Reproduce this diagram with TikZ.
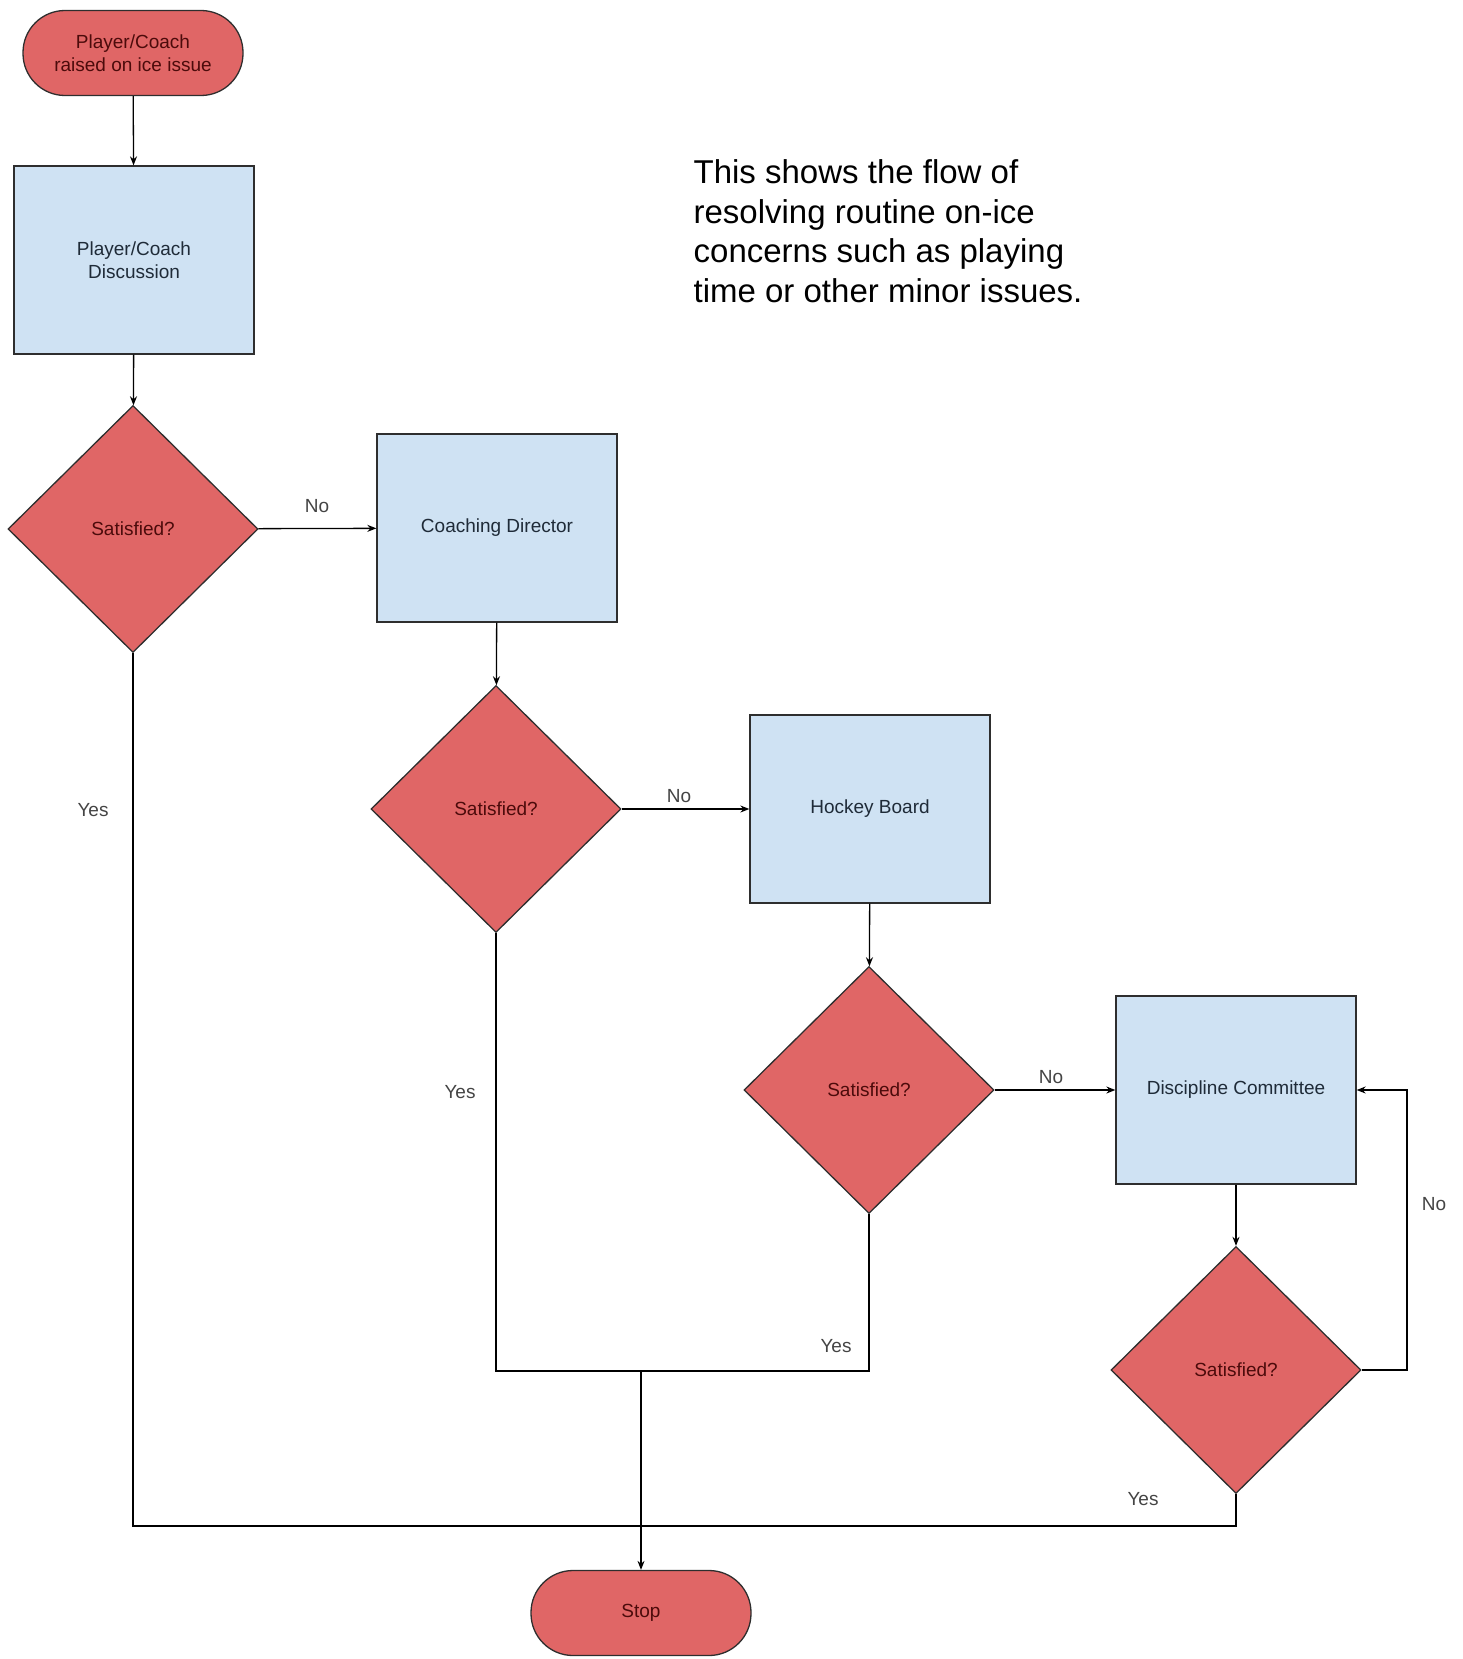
\documentclass[tikz,border=0pt]{standalone}
\usepackage{fontspec}
\setmainfont{Liberation Sans}
\usetikzlibrary{shapes.geometric, arrows.meta, positioning}
\tikzset{>={Stealth[length=9pt,width=7pt]}}
\definecolor{flowred}{HTML}{E06666}
\definecolor{flowblue}{HTML}{CFE2F3}
\definecolor{redtext}{HTML}{4C0B0B}
\definecolor{bluetext}{HTML}{1F2B38}
\definecolor{edgegray}{HTML}{2E2E2E}
\definecolor{lblgray}{HTML}{444444}

\begin{document}
\begin{tikzpicture}[x=1pt,y=-1pt,
	font=\fontsize{19}{23}\selectfont,
	line width=1.3pt,
	term/.style={draw=edgegray, fill=flowred, text=redtext, rounded corners=42pt, minimum width=220pt, minimum height=85pt, align=center},
	procbox/.style={draw=edgegray, fill=flowblue, text=bluetext, minimum width=240pt, minimum height=188pt, align=center},
	decide/.style={diamond, draw=edgegray, fill=flowred, text=redtext, inner sep=0pt, minimum width=250pt, minimum height=247pt},
	lbl/.style={text=lblgray, inner sep=0pt}]
	\useasboundingbox (0,0) rectangle (1463,1659);

	% boxes and decisions
	\node[term] (start) at (133,53) {Player/Coach\\raised on ice issue};
	\node[procbox] (disc) at (134,260) {Player/Coach\\Discussion};
	\node[decide] (sat1) at (133,529) {Satisfied?};
	\node[procbox] (coach) at (497,528) {Coaching Director};
	\node[decide] (sat2) at (496,809) {Satisfied?};
	\node[procbox] (board) at (870,809) {Hockey Board};
	\node[decide] (sat3) at (869,1090) {Satisfied?};
	\node[procbox] (comm) at (1236,1090) {Discipline Committee};
	\node[decide] (sat4) at (1236,1370) {Satisfied?};
	\node[term] (stop) at (641,1613) {Stop};

	\node[anchor=north west, inner sep=0pt, align=left, font=\fontsize{33}{39.6}\selectfont] (note) at (693,159)
		{This shows the flow of\\resolving routine on-ice\\concerns such as playing\\time or other minor issues.};

	% turning points
	\coordinate (join) at (641,1371);
	\coordinate (lowrun) at (0,1526);
	\coordinate (loop) at (1407,0);

	% connectors
	\draw[->] (start) -- (disc);
	\draw[->] (disc) -- (sat1);
	\draw[->] (sat1) -- (coach);
	\draw[->] (coach) -- (sat2);
	\draw[->] (sat2) -- (board);
	\draw[->] (board) -- (sat3);
	\draw[->] (sat3) -- (comm);
	\draw[->] (comm) -- (sat4);
	\draw (sat1.south) -- (sat1.south |- lowrun) -| (sat4.south);
	\draw (sat2.south) |- (join) -| (sat3.south);
	\draw[->] (join) -- (stop);
	\draw[->] (sat4.east) -- (sat4.east -| loop) |- (comm.east);

	% labels
	\node[lbl] (no1) at (317,506) {No};
	\node[lbl] (yes1) at (93,810) {Yes};
	\node[lbl] (no2) at (679,796) {No};
	\node[lbl] (yes2) at (460,1092) {Yes};
	\node[lbl] (no3) at (1051,1077) {No};
	\node[lbl] (yes3) at (836,1346) {Yes};
	\node[lbl] (no4) at (1434,1204) {No};
	\node[lbl] (yes4) at (1143,1499) {Yes};
\end{tikzpicture}
\end{document}
